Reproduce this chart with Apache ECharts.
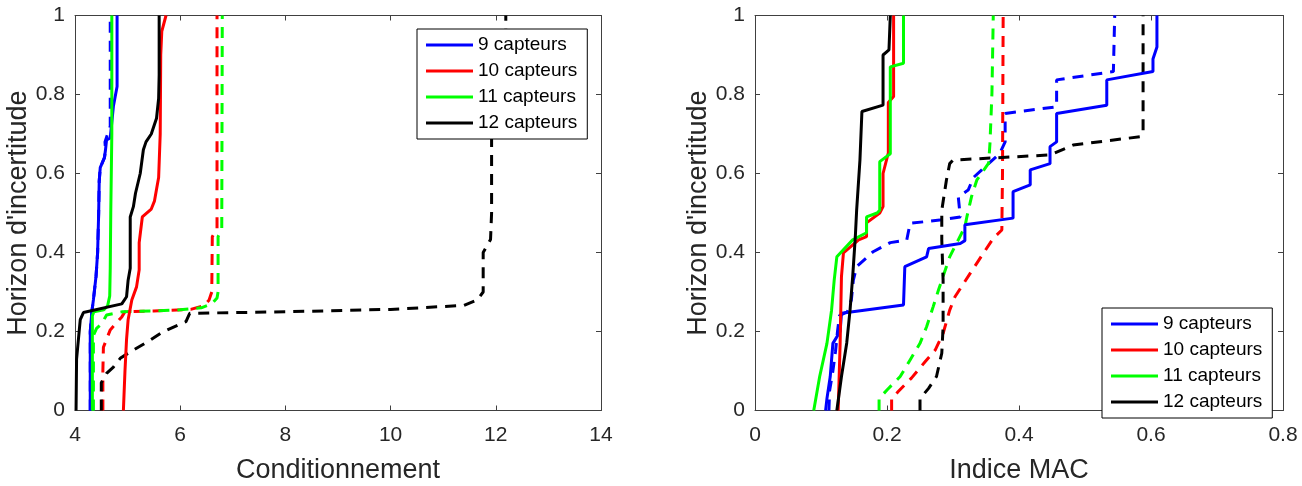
<!DOCTYPE html>
<html>
<head>
<meta charset="utf-8">
<script src="https://cdn.jsdelivr.net/npm/echarts@6/dist/echarts.min.js"></script>
<style>
  html, body { margin: 0; padding: 0; background: #fff; }
  #chart { width: 1302px; height: 486px; }
</style>
</head>
<body>
<div id="chart"></div>
<script>
// courbes : [abscisse, horizon d'incertitude]
const legendNames = ['9 capteurs', '10 capteurs', '11 capteurs', '12 capteurs'];
const colors = ['#0000ff', '#ff0000', '#00ff00', '#000000'];

// --- Conditionnement (gauche) ---
const cond9 = [[4.29,0],[4.29,0.20],[4.32,0.25],[4.35,0.28],[4.40,0.34],[4.43,0.40],[4.45,0.50],[4.46,0.58],[4.48,0.615],[4.56,0.64],[4.58,0.66],[4.60,0.685],[4.67,0.69],[4.73,0.77],[4.80,0.82],[4.80,1]];
const cond9d = [[4.29,0],[4.29,0.20],[4.32,0.25],[4.35,0.28],[4.40,0.34],[4.43,0.40],[4.45,0.50],[4.46,0.58],[4.48,0.615],[4.56,0.64],[4.58,0.66],[4.57,0.68],[4.62,0.70],[4.67,0.72],[4.67,1]];
const cond10 = [[4.92,0],[4.95,0.10],[4.98,0.18],[5.01,0.23],[5.08,0.28],[5.17,0.313],[5.22,0.356],[5.22,0.425],[5.28,0.49],[5.45,0.51],[5.51,0.53],[5.55,0.56],[5.59,0.59],[5.62,0.70],[5.63,0.90],[5.65,0.96],[5.73,1]];
const cond10d = [[4.53,0],[4.53,0.10],[4.54,0.16],[4.67,0.204],[4.89,0.237],[4.95,0.25],[5.5,0.252],[6.2,0.256],[6.45,0.265],[6.55,0.28],[6.60,0.30],[6.61,0.44],[6.70,0.46],[6.70,1]];
const cond11 = [[4.33,0],[4.33,0.24],[4.36,0.25],[4.55,0.255],[4.62,0.265],[4.66,0.29],[4.67,0.36],[4.68,0.50],[4.70,0.70],[4.70,1]];
const cond11d = [[4.35,0],[4.35,0.19],[4.41,0.208],[4.51,0.22],[4.60,0.242],[4.90,0.25],[5.5,0.252],[6.0,0.255],[6.4,0.26],[6.6,0.27],[6.70,0.285],[6.72,0.30],[6.72,0.44],[6.79,0.46],[6.80,1]];
const cond12 = [[4.02,0],[4.03,0.13],[4.10,0.23],[4.16,0.248],[4.89,0.27],[4.98,0.288],[5.01,0.33],[5.05,0.36],[5.05,0.49],[5.11,0.516],[5.15,0.55],[5.24,0.60],[5.30,0.66],[5.35,0.68],[5.45,0.70],[5.55,0.74],[5.59,0.79],[5.60,0.85],[5.60,1]];
const cond12d = [[4.50,0],[4.50,0.07],[4.60,0.094],[4.73,0.11],[4.86,0.132],[5.01,0.145],[5.43,0.178],[5.67,0.199],[6.11,0.225],[6.18,0.246],[8.0,0.25],[10.0,0.256],[11.39,0.266],[11.65,0.28],[11.76,0.30],[11.76,0.40],[11.90,0.433],[11.92,0.50],[11.92,0.72],[12.19,0.75],[12.19,1]];

// --- Indice MAC (droite) ---
const mac9 = [[0.107,0],[0.109,0.03],[0.114,0.086],[0.118,0.17],[0.129,0.20],[0.131,0.246],[0.225,0.267],[0.227,0.27],[0.227,0.364],[0.260,0.389],[0.263,0.41],[0.311,0.423],[0.318,0.43],[0.318,0.47],[0.391,0.487],[0.391,0.554],[0.417,0.571],[0.417,0.609],[0.447,0.625],[0.447,0.668],[0.457,0.68],[0.457,0.752],[0.533,0.773],[0.533,0.837],[0.603,0.858],[0.603,0.89],[0.609,0.92],[0.609,1]];
const mac9d = [[0.112,0],[0.113,0.05],[0.118,0.10],[0.122,0.15],[0.125,0.20],[0.128,0.24],[0.140,0.25],[0.146,0.28],[0.149,0.33],[0.154,0.364],[0.179,0.402],[0.205,0.425],[0.230,0.432],[0.235,0.474],[0.280,0.482],[0.311,0.49],[0.308,0.541],[0.323,0.558],[0.331,0.59],[0.371,0.651],[0.379,0.68],[0.379,0.752],[0.457,0.769],[0.457,0.837],[0.543,0.858],[0.545,1]];
const mac10 = [[0.126,0],[0.129,0.17],[0.131,0.339],[0.134,0.399],[0.157,0.432],[0.169,0.44],[0.169,0.475],[0.189,0.50],[0.194,0.516],[0.194,0.60],[0.202,0.652],[0.202,0.78],[0.210,0.795],[0.210,1]];
const mac10d = [[0.207,0],[0.207,0.03],[0.217,0.048],[0.237,0.082],[0.258,0.124],[0.273,0.153],[0.285,0.195],[0.295,0.254],[0.303,0.288],[0.326,0.347],[0.346,0.398],[0.361,0.436],[0.374,0.457],[0.375,0.6],[0.376,1]];
const mac11 = [[0.089,0],[0.098,0.086],[0.109,0.17],[0.116,0.254],[0.120,0.33],[0.124,0.389],[0.148,0.432],[0.169,0.45],[0.169,0.49],[0.185,0.50],[0.189,0.507],[0.189,0.63],[0.205,0.65],[0.205,0.87],[0.225,0.879],[0.225,1]];
const mac11d = [[0.188,0],[0.188,0.03],[0.200,0.052],[0.220,0.086],[0.235,0.128],[0.250,0.17],[0.260,0.212],[0.270,0.263],[0.278,0.305],[0.295,0.389],[0.308,0.432],[0.318,0.465],[0.321,0.49],[0.328,0.541],[0.336,0.583],[0.354,0.626],[0.356,0.676],[0.359,0.803],[0.361,1]];
const mac12 = [[0.124,0],[0.131,0.086],[0.139,0.171],[0.144,0.254],[0.148,0.339],[0.152,0.44],[0.154,0.507],[0.159,0.634],[0.162,0.757],[0.194,0.773],[0.194,0.90],[0.203,0.913],[0.205,1]];
const mac12d = [[0.250,0],[0.250,0.03],[0.263,0.056],[0.275,0.086],[0.283,0.145],[0.285,0.212],[0.285,0.33],[0.283,0.432],[0.283,0.507],[0.290,0.583],[0.295,0.625],[0.300,0.634],[0.447,0.647],[0.482,0.672],[0.583,0.693],[0.588,0.70],[0.588,1]];

const condSolid = [cond9, cond10, cond11, cond12];
const condDash = [cond9d, cond10d, cond11d, cond12d];
const macSolid = [mac9, mac10, mac11, mac12];
const macDash = [mac9d, mac10d, mac11d, mac12d];

const FONT = '"Liberation Sans", Arial, Helvetica, sans-serif';
const AXIS_COLOR = '#404040';
const DASH = [11, 8];

function makeAxis(opt, showLabel, labelMargin) {
  return Object.assign({
    type: 'value',
    axisLine: { show: true, onZero: false, lineStyle: { color: AXIS_COLOR, width: 1 } },
    axisTick: { show: true, inside: true, length: 5, lineStyle: { color: AXIS_COLOR } },
    splitLine: { show: false },
    axisLabel: { show: showLabel, color: '#262626', fontSize: 21, fontFamily: FONT, margin: labelMargin || 10 },
    nameTextStyle: { color: '#262626', fontSize: 27, fontFamily: FONT }
  }, opt);
}

const xAxes = [
  makeAxis({ gridIndex: 0, min: 4, max: 14, interval: 2, name: 'Conditionnement', nameLocation: 'middle', nameGap: 47 }, true, 14),
  makeAxis({ gridIndex: 0, min: 4, max: 14, interval: 2, position: 'top' }, false),
  makeAxis({ gridIndex: 1, min: 0, max: 0.8, interval: 0.2, name: 'Indice MAC', nameLocation: 'middle', nameGap: 47 }, true, 14),
  makeAxis({ gridIndex: 1, min: 0, max: 0.8, interval: 0.2, position: 'top' }, false)
];
const yAxes = [
  makeAxis({ gridIndex: 0, min: 0, max: 1, interval: 0.2, name: "Horizon d'incertitude", nameLocation: 'middle', nameGap: 39 }, true),
  makeAxis({ gridIndex: 0, min: 0, max: 1, interval: 0.2, position: 'right' }, false),
  makeAxis({ gridIndex: 1, min: 0, max: 1, interval: 0.2, name: "Horizon d'incertitude", nameLocation: 'middle', nameGap: 39 }, true),
  makeAxis({ gridIndex: 1, min: 0, max: 1, interval: 0.2, position: 'right' }, false)
];

const series = [];
function addCurves(solid, dash, xi, yi) {
  dash.forEach((d, i) => {
    series.push({
      name: legendNames[i] + ' (pointillé)', type: 'line', data: d,
      xAxisIndex: xi, yAxisIndex: yi, symbol: 'none', animation: false,
      lineStyle: { color: colors[i], width: 3, type: DASH }
    });
  });
  solid.forEach((d, i) => {
    series.push({
      name: legendNames[i], type: 'line', data: d,
      xAxisIndex: xi, yAxisIndex: yi, symbol: 'none', animation: false,
      itemStyle: { color: colors[i] },
      lineStyle: { color: colors[i], width: 3, type: 'solid' }
    });
  });
}
addCurves(condSolid, condDash, 0, 0);
addCurves(macSolid, macDash, 2, 2);

function makeLegend(left, top) {
  return {
    data: legendNames.map(n => ({ name: n, icon: 'rect' })),
    orient: 'vertical', left: left, top: top,
    itemWidth: 47, itemHeight: 3, itemGap: 6,
    padding: [6, 10, 6, 9],
    backgroundColor: '#fff', borderColor: '#000', borderWidth: 1,
    selectedMode: false, z: 10,
    textStyle: { color: '#000', fontSize: 19, lineHeight: 20, fontFamily: FONT }
  };
}

const chart = echarts.init(document.getElementById('chart'), null, { renderer: 'canvas' });
chart.setOption({
  backgroundColor: '#fff',
  animation: false,
  textStyle: { fontFamily: FONT },
  grid: [
    { left: 75, top: 15.5, width: 526, height: 395, outerBoundsMode: 'none', containLabel: false },
    { left: 755, top: 15.5, width: 528, height: 395, outerBoundsMode: 'none', containLabel: false }
  ],
  xAxis: xAxes,
  yAxis: yAxes,
  legend: [makeLegend(417, 29), makeLegend(1102, 308)],
  series: series
});
</script>
</body>
</html>
